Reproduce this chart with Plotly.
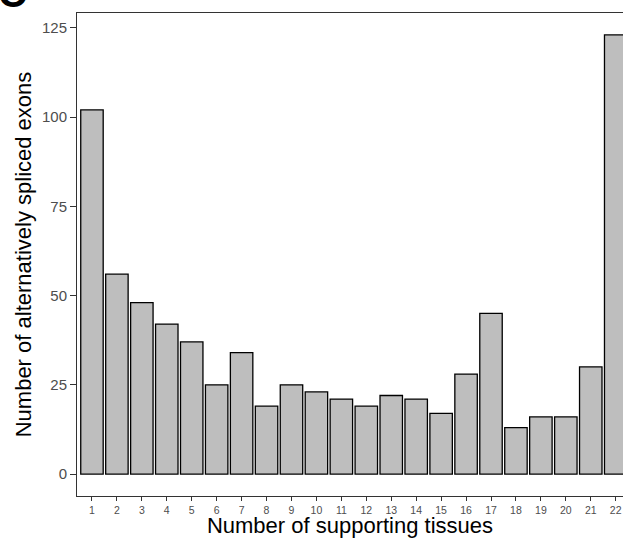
import plotly.graph_objects as go

tissues = list(range(1, 23))
exon_counts = [102, 56, 48, 42, 37, 25, 34, 19, 25, 23, 21, 19, 22, 21, 17, 28, 45, 13, 16, 16, 30, 123]
tick_labels = [str(t) for t in tissues]
y_ticks = [0, 25, 50, 75, 100, 125]

W, H = 623, 538
L, R, T, B = 77, 0, 13, 42

fig = go.Figure()
fig.add_trace(go.Bar(
    x=tissues, y=exon_counts, width=0.9,
    marker=dict(color="#BEBEBE", line=dict(color="black", width=1.3)),
    hoverinfo="x+y",
))

fig.update_layout(
    width=W, height=H,
    margin=dict(l=L, r=R, t=T, b=B, pad=0),
    paper_bgcolor="white", plot_bgcolor="white",
    font=dict(family="Liberation Sans, Arial, Helvetica, sans-serif"),
    showlegend=False,
    bargap=0.1,
)

fig.update_xaxes(
    range=[0.4, 0.4 + (W - L - R) / 24.94],
    tickmode="array", tickvals=tissues, ticktext=tick_labels,
    ticks="outside", ticklen=4, tickwidth=1, tickcolor="#333333",
    tickfont=dict(size=10.5, color="#4D4D4D"),
    showline=True, linecolor="#333333", linewidth=1, mirror=True,
    showgrid=False, zeroline=False,
    title=dict(text="Number of supporting tissues", font=dict(size=22, color="black"), standoff=2),
    automargin=False,
)
fig.update_yaxes(
    range=[-6.15, 129.15],
    tickmode="array", tickvals=y_ticks, ticktext=[str(v) for v in y_ticks],
    ticks="outside", ticklen=6, tickwidth=1, tickcolor="#333333",
    tickfont=dict(size=15, color="#4D4D4D"),
    showline=True, linecolor="#333333", linewidth=1, mirror=False,
    showgrid=False, zeroline=False,
    title=dict(text="Number of alternatively spliced exons", font=dict(size=22, color="black"), standoff=4),
    automargin=False,
)

fig.add_annotation(
    text="<b>C</b>", xref="paper", yref="paper",
    x=(0 - L) / (W - L - R), y=(H - B - 9) / (H - T - B),
    xanchor="left", yanchor="bottom", showarrow=False,
    font=dict(size=40, color="black", family="Liberation Sans, Arial, sans-serif"),
    xshift=-4, yshift=-8,
)

fig.write_html(
    "out.html",
    config={"displayModeBar": False},
    post_script="document.body.style.margin='0';document.body.style.overflow='hidden';",
)
